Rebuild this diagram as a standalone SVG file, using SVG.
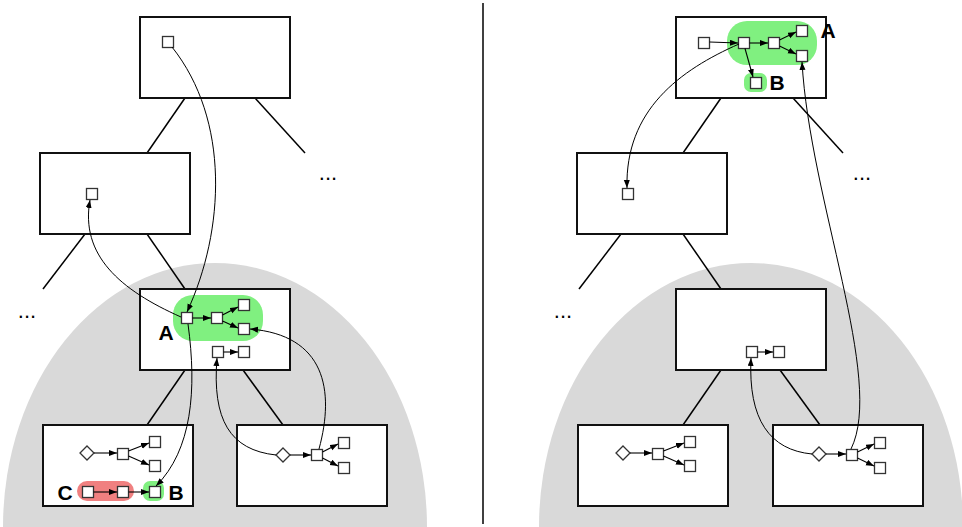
<svg xmlns="http://www.w3.org/2000/svg" width="962" height="527" viewBox="0 0 962 527">
<defs>
<marker id="ah" markerUnits="userSpaceOnUse" markerWidth="9" markerHeight="7" refX="8" refY="3" orient="auto"><path d="M0,0 L8,3 L0,6 z" fill="#000"/></marker>
<style>
.box{fill:#fff;stroke:#111;stroke-width:2}
.sq{fill:#fff;stroke:#333;stroke-width:1.3}
.edge{stroke:#000;stroke-width:1.5;fill:none}
.arr{stroke:#000;stroke-width:1.1;fill:none;marker-end:url(#ah)}
.cur{stroke:#000;stroke-width:1;fill:none}
.lbl{font-family:"Liberation Sans",Arial,sans-serif;font-weight:bold;font-size:21px;fill:#000;text-anchor:middle}
.dots{font-family:"Liberation Sans",Arial,sans-serif;font-size:22px;fill:#000;text-anchor:middle}
.green{fill:#80f080}
.red{fill:#f08080}
.grey{fill:#d9d9d9}
</style>
</defs>
<rect width="962" height="527" fill="#fff"/>
<g id="backgrounds">
<ellipse class="grey" cx="215" cy="527" rx="212" ry="264"/>
<ellipse class="grey" cx="751" cy="527" rx="212" ry="264"/>
<line x1="483" y1="3" x2="483" y2="524" stroke="#000" stroke-width="1.5"/>
</g>
<g id="tree-edges">
<line class="edge" x1="185" y1="98" x2="147" y2="153"/>
<line class="edge" x1="255" y1="98" x2="305" y2="153"/>
<line class="edge" x1="85" y1="234" x2="43" y2="289"/>
<line class="edge" x1="147" y1="234" x2="185" y2="289"/>
<line class="edge" x1="185" y1="370" x2="147" y2="425"/>
<line class="edge" x1="243" y1="370" x2="283" y2="425"/>
<line class="edge" x1="721" y1="98" x2="683" y2="153"/>
<line class="edge" x1="793" y1="98" x2="843" y2="153"/>
<line class="edge" x1="621" y1="234" x2="579" y2="289"/>
<line class="edge" x1="683" y1="234" x2="721" y2="289"/>
<line class="edge" x1="721" y1="370" x2="683" y2="425"/>
<line class="edge" x1="780" y1="370" x2="820" y2="425"/>
</g>
<g id="dots">
<text class="dots" x="328" y="180">...</text>
<text class="dots" x="27" y="318">...</text>
<text class="dots" x="862" y="180">...</text>
<text class="dots" x="563" y="318">...</text>
</g>
<g id="L-top"><rect class="box" x="140" y="17" width="150" height="81"/><rect class="sq" x="162.5" y="36.5" width="11" height="11"/></g>
<g id="L-second"><rect class="box" x="40" y="153" width="150" height="81"/><rect class="sq" x="86.5" y="188.5" width="11" height="11"/></g>
<g id="L-middle">
<rect class="box" x="140" y="289" width="150" height="81"/>
<rect class="green" x="173" y="295" width="90" height="46" rx="20"/>
<text class="lbl" x="166" y="340">A</text>
<rect class="sq" x="181.5" y="312.5" width="11" height="11"/>
<rect class="sq" x="211.5" y="312.5" width="11" height="11"/>
<rect class="sq" x="238.5" y="299.5" width="11" height="11"/>
<rect class="sq" x="238.5" y="323.5" width="11" height="11"/>
<rect class="sq" x="212.5" y="346.5" width="11" height="11"/>
<rect class="sq" x="238.5" y="346.5" width="11" height="11"/>
<line class="arr" x1="192.5" y1="318" x2="211" y2="318"/>
<line class="arr" x1="222.5" y1="315" x2="238" y2="307"/>
<line class="arr" x1="222.5" y1="321" x2="238" y2="328"/>
<line class="arr" x1="223.5" y1="352" x2="238" y2="352"/>
</g>
<g id="L-bottom1">
<rect class="box" x="43" y="425" width="150" height="81"/>
<rect class="red" x="77" y="481" width="57" height="20" rx="10"/>
<rect class="green" x="143" y="481" width="21" height="20" rx="7"/>
<text class="lbl" x="65" y="500">C</text>
<text class="lbl" x="176" y="500">B</text>
<path class="sq" d="M87,446 L94,453 L87,460 L80,453 Z"/>
<rect class="sq" x="117.5" y="448.5" width="11" height="11"/>
<rect class="sq" x="149.5" y="436.5" width="11" height="11"/>
<rect class="sq" x="149.5" y="460.5" width="11" height="11"/>
<rect class="sq" x="82.5" y="486.5" width="11" height="11"/>
<rect class="sq" x="117.5" y="486.5" width="11" height="11"/>
<rect class="sq" x="149.5" y="486.5" width="11" height="11"/>
<line class="arr" x1="94" y1="453" x2="117" y2="453"/>
<line class="arr" x1="128.5" y1="451" x2="149" y2="443"/>
<line class="arr" x1="128.5" y1="456" x2="149" y2="465"/>
<line class="arr" x1="93.5" y1="492" x2="117" y2="492"/>
<line class="arr" x1="128.5" y1="492" x2="149" y2="492"/>
</g>
<g id="L-bottom2">
<rect class="box" x="237" y="425" width="150" height="81"/>
<path class="sq" d="M283,448 L290,455 L283,462 L276,455 Z"/>
<rect class="sq" x="311.5" y="449.5" width="11" height="11"/>
<rect class="sq" x="338.5" y="437.5" width="11" height="11"/>
<rect class="sq" x="338.5" y="462.5" width="11" height="11"/>
<line class="arr" x1="290" y1="455" x2="311" y2="455"/>
<line class="arr" x1="322.5" y1="452" x2="338" y2="444"/>
<line class="arr" x1="322.5" y1="458" x2="338" y2="466"/>
</g>
<g id="R-top">
<rect class="box" x="676" y="17" width="150" height="81"/>
<rect class="green" x="727" y="21" width="90" height="44" rx="20"/>
<rect class="green" x="744" y="73" width="23" height="19" rx="7"/>
<text class="lbl" x="828" y="38">A</text>
<text class="lbl" x="777" y="90">B</text>
<rect class="sq" x="698.5" y="37.5" width="11" height="11"/>
<rect class="sq" x="738.5" y="37.5" width="11" height="11"/>
<rect class="sq" x="768.5" y="37.5" width="11" height="11"/>
<rect class="sq" x="796.5" y="25.5" width="11" height="11"/>
<rect class="sq" x="796.5" y="50.5" width="11" height="11"/>
<rect class="sq" x="750.5" y="77.5" width="11" height="11"/>
<line class="arr" x1="709.5" y1="42" x2="738" y2="43"/>
<line class="arr" x1="749.5" y1="43" x2="768" y2="43"/>
<line class="arr" x1="779.5" y1="40" x2="796" y2="32"/>
<line class="arr" x1="779.5" y1="46" x2="796" y2="54"/>
<line class="arr" x1="745" y1="48.5" x2="753" y2="77"/>
</g>
<g id="R-second"><rect class="box" x="577" y="153" width="150" height="81"/><rect class="sq" x="622.5" y="188.5" width="11" height="11"/></g>
<g id="R-middle">
<rect class="box" x="676" y="289" width="150" height="81"/>
<rect class="sq" x="746.5" y="346.5" width="11" height="11"/>
<rect class="sq" x="773.5" y="346.5" width="11" height="11"/>
<line class="arr" x1="757.5" y1="352" x2="773" y2="352"/>
</g>
<g id="R-bottom1">
<rect class="box" x="578" y="425" width="150" height="81"/>
<path class="sq" d="M623,446 L630,453 L623,460 L616,453 Z"/>
<rect class="sq" x="652.5" y="448.5" width="11" height="11"/>
<rect class="sq" x="684.5" y="436.5" width="11" height="11"/>
<rect class="sq" x="684.5" y="460.5" width="11" height="11"/>
<line class="arr" x1="630" y1="453" x2="652" y2="453"/>
<line class="arr" x1="663.5" y1="451" x2="684" y2="443"/>
<line class="arr" x1="663.5" y1="456" x2="684" y2="465"/>
</g>
<g id="R-bottom2">
<rect class="box" x="773" y="425" width="150" height="81"/>
<path class="sq" d="M819,447 L826,454 L819,461 L812,454 Z"/>
<rect class="sq" x="846.5" y="449.5" width="11" height="11"/>
<rect class="sq" x="874.5" y="437.5" width="11" height="11"/>
<rect class="sq" x="874.5" y="462.5" width="11" height="11"/>
<line class="arr" x1="826" y1="454" x2="846" y2="454"/>
<line class="arr" x1="857.5" y1="452" x2="874" y2="444"/>
<line class="arr" x1="857.5" y1="458" x2="874" y2="466"/>
</g>
<g id="connectors">
<path class="cur" marker-end="url(#ah)" d="M172,47 C230,120 225,230 187,312"/>
<path class="cur" marker-end="url(#ah)" d="M181,317 C120,290 80,255 90,200"/>
<path class="cur" marker-end="url(#ah)" d="M188,324 C197,390 192,450 156,486"/>
<path class="cur" marker-end="url(#ah)" d="M319,449 C335,390 325,335 250,329"/>
<path class="cur" marker-end="url(#ah)" d="M276,455 C230,450 212,420 217,358"/>
<path class="cur" marker-end="url(#ah)" d="M739,44 C680,70 625,110 627,188"/>
<path class="cur" marker-end="url(#ah)" d="M851,449 C885,380 810,200 802,62"/>
<path class="cur" marker-end="url(#ah)" d="M812,454 C770,450 748,420 751,358"/>
</g>
</svg>
